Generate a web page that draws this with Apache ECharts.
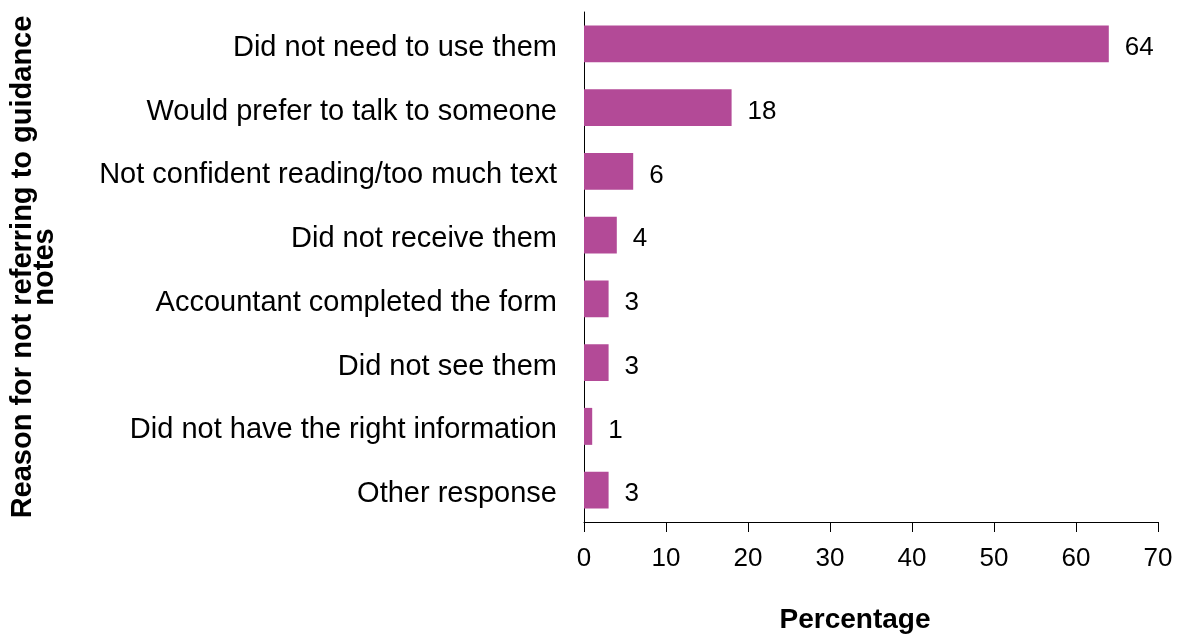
<!DOCTYPE html>
<html>
<head>
<meta charset="utf-8">
<script src="https://cdn.jsdelivr.net/npm/echarts@6/dist/echarts.min.js"></script>
<style>
  html, body { margin: 0; padding: 0; background: #fff; }
  #chart { width: 1183px; height: 639px; }
</style>
</head>
<body>
<div id="chart"></div>
<script>
// reasons, listed top to bottom as in the chart
var reasons = [
  'Did not need to use them',
  'Would prefer to talk to someone',
  'Not confident reading/too much text',
  'Did not receive them',
  'Accountant completed the form',
  'Did not see them',
  'Did not have the right information',
  'Other response'
];
var percentages = [64, 18, 6, 4, 3, 3, 1, 3];
var xTicks = [0, 10, 20, 30, 40, 50, 60, 70];

var chartDom = document.getElementById('chart');
var myChart = echarts.init(chartDom);
var option;

var font = 'Liberation Sans, Arial, sans-serif';

option = {
  animation: false,
  grid: { left: 584, right: 25, top: 12, bottom: 116, containLabel: false },
  xAxis: {
    type: 'value',
    min: xTicks[0],
    max: xTicks[xTicks.length - 1],
    interval: 10,
    name: 'Percentage',
    nameLocation: 'middle',
    nameGap: 84,
    nameTextStyle: { fontFamily: font, fontSize: 28, fontWeight: 'bold', color: '#000', padding: [0, 32, 0, 0] },
    axisLine: { show: true, lineStyle: { color: '#000', width: 1 } },
    axisTick: { show: true, length: 10, lineStyle: { color: '#000' } },
    axisLabel: { fontFamily: font, fontSize: 26, color: '#000', margin: 24 },
    splitLine: { show: false }
  },
  yAxis: {
    type: 'category',
    inverse: true,
    data: reasons,
    name: 'Reason for not referring to guidance\nnotes',
    nameLocation: 'middle',
    nameRotate: 90,
    nameGap: 528,
    nameTextStyle: { fontFamily: font, fontSize: 29, fontWeight: 'bold', color: '#000', lineHeight: 22 },
    axisLine: { show: true, lineStyle: { color: '#000', width: 1 } },
    axisTick: { show: false },
    axisLabel: {
      margin: 27,
      formatter: function (v) { return '{t|' + v + '}'; },
      rich: { t: { fontFamily: font, fontSize: 29, color: '#000', padding: [8, 0, 0, 0] } }
    }
  },
  series: [
    {
      type: 'bar',
      data: percentages,
      barCategoryGap: '42%',
      itemStyle: { color: '#B34A97' },
      label: {
        show: true,
        position: 'right',
        distance: 16,
        offset: [0, 4],
        fontFamily: font,
        fontSize: 26,
        color: '#000'
      }
    }
  ]
};

option && myChart.setOption(option);
</script>
</body>
</html>
